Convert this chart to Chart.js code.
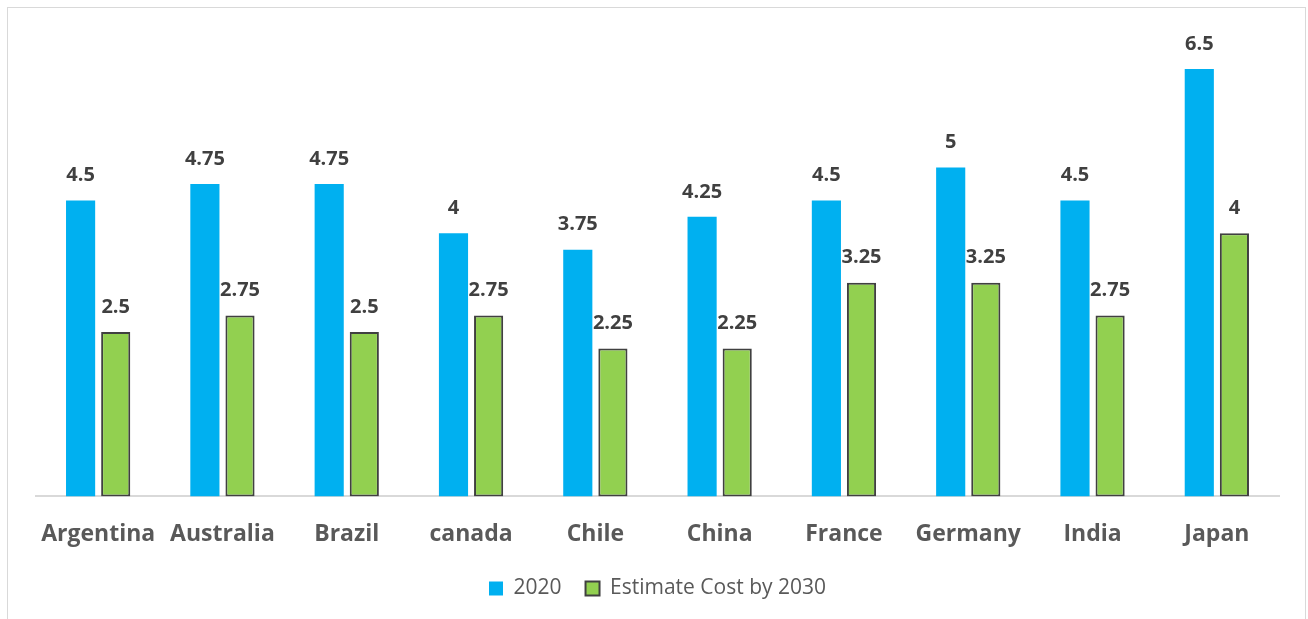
<!DOCTYPE html>
<html>
<head>
<meta charset="utf-8">
<script src="https://cdn.jsdelivr.net/npm/chart.js@4.4.1/dist/chart.umd.min.js"></script>
<style>
  html, body { margin: 0; padding: 0; background: #ffffff; overflow: hidden; }
  #frame {
    position: absolute; left: 7px; top: 7px; width: 1299px; height: 660px;
    border: 1px solid #d9d9d9; box-sizing: border-box;
  }
  #wrap { position: absolute; left: 0; top: 0; width: 1297px; height: 611px; }
</style>
</head>
<body>
<div id="frame"><div id="wrap"><canvas id="chart"></canvas></div></div>
<script>
const countries = ['Argentina', 'Australia', 'Brazil', 'canada', 'Chile', 'China', 'France', 'Germany', 'India', 'Japan'];
const cost2020 = [4.5, 4.75, 4.75, 4, 3.75, 4.25, 4.5, 5, 4.5, 6.5];
const cost2030 = [2.5, 2.75, 2.5, 2.75, 2.25, 2.25, 3.25, 3.25, 2.75, 4];
const seriesNames = ['2020', 'Estimate Cost by 2030'];

const FONT = '"Open Sans", "DejaVu Sans", sans-serif';

// Writes each bar's value just above it
const valueLabels = {
  id: 'valueLabels',
  afterDatasetsDraw(chart) {
    const ctx = chart.ctx;
    ctx.save();
    ctx.font = 'bold 20px ' + FONT;
    ctx.fillStyle = '#404040';
    ctx.textAlign = 'center';
    ctx.textBaseline = 'middle';
    chart.data.datasets.forEach((ds, i) => {
      const meta = chart.getDatasetMeta(i);
      meta.data.forEach((bar, j) => {
        ctx.fillText(String(ds.data[j]), bar.x, bar.y - 25);
      });
    });
    ctx.restore();
  }
};

new Chart(document.getElementById('chart'), {
  type: 'bar',
  data: {
    labels: countries,
    datasets: [
      {
        label: seriesNames[0],
        data: cost2020,
        backgroundColor: '#00B0F0',
        borderWidth: 0,
        categoryPercentage: 0.565,
        barPercentage: 0.83
      },
      {
        label: seriesNames[1],
        data: cost2030,
        backgroundColor: '#92D050',
        borderColor: '#404040',
        borderWidth: 2,
        borderSkipped: false,
        categoryPercentage: 0.565,
        barPercentage: 0.83
      }
    ]
  },
  options: {
    responsive: true,
    maintainAspectRatio: false,
    animation: false,
    layout: { padding: { left: 28, right: 26, top: 28, bottom: 10 } },
    scales: {
      x: {
        grid: { display: false, drawTicks: false },
        border: { display: true, color: '#d9d9d9', width: 2 },
        ticks: {
          color: '#595959',
          font: { family: FONT, size: 23, weight: 'bold' },
          padding: 24,
          maxRotation: 0,
          autoSkip: false
        },
        // let the category labels sit a little into the legend's top margin
        afterFit(scale) { scale.height -= 18; }
      },
      y: {
        display: false,
        min: 0,
        max: 7
      }
    },
    plugins: {
      legend: {
        position: 'bottom',
        labels: {
          color: '#595959',
          font: { family: FONT, size: 21 },
          boxWidth: 14,
          boxHeight: 14,
          padding: 24
        }
      },
      tooltip: { enabled: false },
      title: { display: false }
    }
  },
  plugins: [valueLabels]
});
</script>
</body>
</html>
